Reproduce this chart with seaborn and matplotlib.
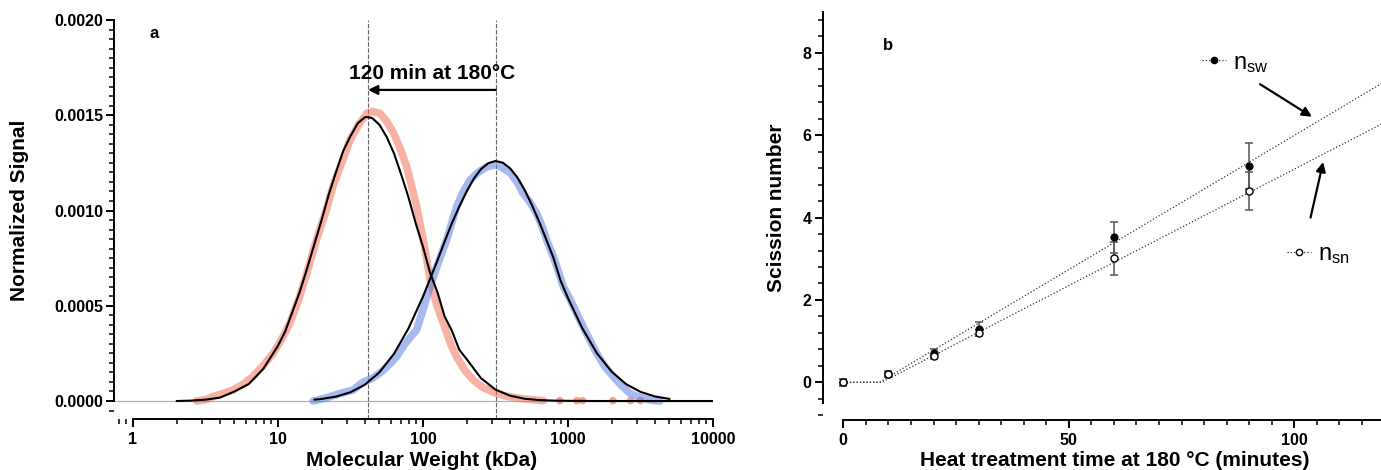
import numpy as np
import pandas as pd
import seaborn as sns
import matplotlib.pyplot as plt
import matplotlib.ticker as mticker
from matplotlib.lines import Line2D

# ---- panel a: molecular weight distributions ----
red_kda = [2.75, 3.2, 3.56, 4.2, 4.9, 5.8, 6.7, 8.0, 9.25, 10.7, 12.1, 14.0, 15.8,
           18.5, 21.5, 24.0, 27.5, 31.4, 36.0, 41.0, 45.0, 50.5, 56.0, 62.4, 70.0,
           77.3, 84.0, 90.6, 96.0, 103, 112, 125, 138, 155, 170, 195, 222, 260,
           322, 380, 443, 550, 676]
red_signal = [0.0, 0.000008, 0.000023, 0.00004, 0.000058, 0.00009, 0.000128, 0.00019,
              0.00025, 0.00033, 0.00041, 0.00054, 0.00067, 0.00085, 0.00100, 0.00113,
              0.00125, 0.00137, 0.00145, 0.00151, 0.00152, 0.00151, 0.00147, 0.00141,
              0.00132, 0.00123, 0.00112, 0.00102, 0.00092, 0.00080, 0.000635, 0.00050,
              0.00041, 0.00030, 0.000233, 0.00016, 0.00011, 0.00007, 0.00004, 0.000025,
              0.000016, 0.000008, 0.000002]
red_tail_kda = [880, 1150, 1260, 2040, 2700, 3160]
red_tail_signal = [0.000002, 0.000002, 0.000002, 0.000002, 0.000002, 0.000002]

blue_kda = [17.5, 20, 22.8, 27, 33, 38.7, 45, 53, 60, 65.8, 75, 90.4, 100, 111.7, 128,
            145.6, 170.6, 190, 211, 240, 275, 322, 360, 398, 445, 491, 550, 608, 660,
            713, 800, 929, 1040, 1148, 1350, 1577, 1800, 2055, 2350, 2679, 3100, 3680,
            4300]
blue_signal = [0.0, 0.00001, 0.000023, 0.00004, 0.000058, 0.0001, 0.00012, 0.00016,
               0.0002, 0.000233, 0.0003, 0.000373, 0.00048, 0.0006, 0.00073, 0.000845,
               0.00102, 0.00110, 0.00116, 0.0012, 0.00123, 0.00124, 0.00122, 0.0012,
               0.00115, 0.00109, 0.00104, 0.000985, 0.00092, 0.000845, 0.00075, 0.0006,
               0.00053, 0.00046, 0.00035, 0.00025, 0.00018, 0.000128, 0.00008, 0.00004,
               0.00002, 0.000005, 0.0]

fit_red_kda = [2.0, 2.51, 3.16, 3.98, 5.01, 6.31, 7.94, 10.0, 11.2, 12.6, 14.1, 15.8,
               17.8, 20.0, 22.4, 25.1, 28.2, 31.6, 35.5, 39.8, 41.8, 44.7, 50.1, 56.2,
               63.1, 70.8, 79.4, 89.1, 100, 112, 126, 141, 158, 178, 200, 251, 316,
               398, 501, 631, 794, 1000, 1585, 3162, 10000]
fit_red_signal = [0.0, 0.000002, 0.000007, 0.000018, 0.00005, 0.00009, 0.00017, 0.00029,
                  0.000364, 0.00047, 0.000571, 0.00069, 0.000822, 0.00095, 0.001084,
                  0.0012, 0.001313, 0.00139, 0.001458, 0.00149, 0.00149, 0.001485,
                  0.00145, 0.001386, 0.0013, 0.001188, 0.00107, 0.000933, 0.00081,
                  0.000672, 0.00057, 0.000444, 0.00037, 0.000269, 0.00022, 0.00012,
                  0.00006, 0.000028, 0.000012, 0.000005, 0.000002, 0.000001, 0.0, 0.0,
                  0.0]

fit_blue_kda = [17.8, 20.0, 25.1, 31.6, 39.8, 50.1, 63.1, 79.4, 100, 112, 126, 141, 158,
                178, 200, 224, 251, 282, 316, 355, 398, 447, 501, 562, 631, 708, 794,
                891, 1000, 1259, 1585, 1995, 2512, 3162, 3981, 5012]
fit_blue_signal = [0.000007, 0.000011, 0.000023, 0.000046, 0.000086, 0.000151, 0.000248,
                   0.000381, 0.000548, 0.000642, 0.000739, 0.000837, 0.000932, 0.001021,
                   0.0011, 0.001167, 0.001217, 0.001248, 0.00126, 0.001251, 0.001222,
                   0.001174, 0.001109, 0.001031, 0.000943, 0.000848, 0.000751, 0.00063,
                   0.00054, 0.00038, 0.00025, 0.000155, 0.000089, 0.000048, 0.000024,
                   0.000011]

peak_before = 318     # kDa, untreated
peak_after = 41.8     # kDa, after 120 min

# ---- panel b: scission numbers ----
times = [0, 10, 20, 30, 60, 90]
n_sw = [0.0, 0.20, 0.72, 1.29, 3.52, 5.26]
n_sw_err = [0.08, 0.07, 0.09, 0.17, 0.37, 0.56]
n_sn = [0.0, 0.19, 0.63, 1.20, 3.01, 4.64]
n_sn_err = [0.07, 0.06, 0.06, 0.08, 0.40, 0.46]
fit_sw_t = [0, 8.0, 120]
fit_sw = [0.0, 0.0, 7.30]
fit_sn_t = [0, 8.5, 120]
fit_sn = [0.0, 0.0, 6.31]

sns.set_theme(style="ticks")
plt.rcParams["font.family"] = ["Liberation Sans", "DejaVu Sans"]
plt.rcParams["mathtext.fontset"] = "custom"
plt.rcParams["mathtext.rm"] = "Liberation Sans"
plt.rcParams["text.color"] = "black"
plt.rcParams["axes.labelcolor"] = "black"

W, H = 1381, 470
fig = plt.figure(figsize=(W / 100, H / 100), dpi=100)


def px_axes(left, top, right, bottom):
    return fig.add_axes([left / W, 1 - bottom / H, (right - left) / W, (bottom - top) / H])


def style_ticks(ax, ypad):
    for s in ("left", "bottom"):
        ax.spines[s].set_linewidth(1.4)
        ax.spines[s].set_color("black")
    sns.despine(ax=ax)
    ax.tick_params(which="major", direction="out", length=6, width=1.4,
                   labelsize=11.5, colors="black")
    ax.tick_params(which="minor", direction="out", length=3.5, width=1.1, colors="black")
    ax.tick_params(axis="y", which="major", pad=ypad)
    for lab in ax.get_xticklabels() + ax.get_yticklabels():
        lab.set_fontweight("bold")


# ---------------- panel a ----------------
ax1 = px_axes(114, 20, 713, 419)
ax1.set_xscale("log")
ax1.set_xlim(0.74, 10000)
ax1.set_ylim(-0.0000944, 0.0020)

ax1.axhline(0, color="#b0b0b0", lw=0.9, zorder=1)
for pk in (peak_after, peak_before):
    ax1.axvline(pk, color="#666666", lw=0.8, ls=(0, (4, 1.5)), zorder=1)

sns.lineplot(x=red_kda, y=red_signal, ax=ax1, color="#f2654c", lw=5.5, alpha=0.5,
             sort=False, estimator=None, solid_capstyle="round", zorder=2)
sns.scatterplot(x=red_tail_kda, y=red_tail_signal, ax=ax1, color="#f2654c", s=30,
                alpha=0.6, edgecolor="none", zorder=2)
sns.lineplot(x=blue_kda, y=blue_signal, ax=ax1, color="#5077e0", lw=5.5, alpha=0.5,
             sort=False, estimator=None, solid_capstyle="round", zorder=2)
sns.lineplot(x=fit_red_kda, y=fit_red_signal, ax=ax1, color="black", lw=1.5,
             sort=False, estimator=None, zorder=3)
sns.lineplot(x=fit_blue_kda, y=fit_blue_signal, ax=ax1, color="black", lw=1.5,
             sort=False, estimator=None, zorder=3)

ax1.annotate("", xy=(peak_after, 0.001633), xytext=(peak_before, 0.001633),
             arrowprops=dict(arrowstyle="-|>", color="black", lw=1.6,
                             mutation_scale=14, shrinkA=0, shrinkB=0))
ax1.text(115, 0.001717, "120 min at 180°C", ha="center", va="center",
         fontsize=15, fontweight="bold")
ax1.text(0.067, 0.967, "a", transform=ax1.transAxes, ha="center", va="center",
         fontsize=12, fontweight="bold")

ax1.set_yticks([0, 0.0005, 0.0010, 0.0015, 0.0020])
ax1.yaxis.set_major_formatter(mticker.FormatStrFormatter("%.4f"))
ax1.yaxis.set_minor_locator(mticker.MultipleLocator(0.00005))
ax1.set_xticks([1, 10, 100, 1000, 10000])
ax1.xaxis.set_major_formatter(mticker.FuncFormatter(lambda v, p: f"{v:g}"))
ax1.xaxis.set_minor_locator(mticker.LogLocator(base=10, subs=np.arange(2, 10)))
ax1.xaxis.set_minor_formatter(mticker.NullFormatter())
style_ticks(ax1, ypad=1.5)
ax1.spines["left"].set_bounds(0, 0.0020)
ax1.spines["bottom"].set_bounds(1, 10000)

ax1.set_xlabel("Molecular Weight (kDa)", fontsize=15, fontweight="bold")
ax1.set_ylabel("Normalized Signal", fontsize=15, fontweight="bold")
ax1.xaxis.set_label_coords(0.513, -0.08)
ax1.yaxis.set_label_coords(-0.142, 0.524)

# ---------------- panel b ----------------
ax2 = px_axes(822.7, 11.7, 1384.5, 420)
ax2.set_xlim(-4.57, 120)
ax2.set_ylim(-0.915, 9.0)

sns.lineplot(x=fit_sw_t, y=fit_sw, ax=ax2, color="#333333", lw=0.9, ls=":",
             sort=False, estimator=None, zorder=2)
sns.lineplot(x=fit_sn_t, y=fit_sn, ax=ax2, color="#333333", lw=0.9, ls=":",
             sort=False, estimator=None, zorder=2)
ax2.errorbar(times, n_sw, yerr=n_sw_err, fmt="none", ecolor="#555555", elinewidth=1.1,
             capsize=3, capthick=1.1, zorder=3)
ax2.errorbar(times, n_sn, yerr=n_sn_err, fmt="none", ecolor="#555555", elinewidth=1.1,
             capsize=3, capthick=1.1, zorder=3)
sns.scatterplot(x=times, y=n_sw, ax=ax2, color="black", s=26, edgecolor="black",
                linewidth=0.8, zorder=4)
sns.scatterplot(x=times, y=n_sn, ax=ax2, color="white", s=26, edgecolor="black",
                linewidth=1.0, zorder=4)

h_sw = Line2D([], [], color="#333333", ls=":", lw=0.9, marker="o", ms=4.5,
              markerfacecolor="black", markeredgecolor="black")
h_sn = Line2D([], [], color="#333333", ls=":", lw=0.9, marker="o", ms=4.5,
              markerfacecolor="white", markeredgecolor="black")
leg_font = {"size": 17, "weight": "normal"}
leg1 = ax2.legend([h_sw], [r"$\mathregular{n_{sw}}$"], loc="center left",
                  bbox_to_anchor=(0.676, 0.874), frameon=False, prop=leg_font,
                  handlelength=1.0, handletextpad=0.3, borderpad=0, borderaxespad=0)
ax2.add_artist(leg1)
ax2.legend([h_sn], [r"$\mathregular{n_{sn}}$"], loc="center left",
           bbox_to_anchor=(0.827, 0.404), frameon=False, prop=leg_font,
           handlelength=1.0, handletextpad=0.3, borderpad=0, borderaxespad=0)

ax2.annotate("", xy=(103.9, 6.45), xytext=(92.4, 7.24),
             arrowprops=dict(arrowstyle="-|>", color="black", lw=1.6,
                             mutation_scale=14, shrinkA=0, shrinkB=0))
ax2.annotate("", xy=(106.4, 5.35), xytext=(103.6, 4.0),
             arrowprops=dict(arrowstyle="-|>", color="black", lw=1.6,
                             mutation_scale=14, shrinkA=0, shrinkB=0))
ax2.text(0.116, 0.918, "b", transform=ax2.transAxes, ha="center", va="center",
         fontsize=12, fontweight="bold")

ax2.set_yticks([0, 2, 4, 6, 8])
ax2.yaxis.set_minor_locator(mticker.MultipleLocator(0.4))
ax2.set_xticks([0, 50, 100])
ax2.xaxis.set_minor_locator(mticker.MultipleLocator(5))
style_ticks(ax2, ypad=2)
ax2.spines["left"].set_bounds(-0.5, 9.0)
ax2.spines["bottom"].set_bounds(0, 120)

ax2.set_xlabel("Heat treatment time at 180 °C (minutes)", fontsize=15, fontweight="bold")
ax2.set_ylabel("Scission number", fontsize=15, fontweight="bold")
ax2.xaxis.set_label_coords(0.52, -0.075)
ax2.yaxis.set_label_coords(-0.065, 0.52)

fig.savefig("out.png", dpi=100)
